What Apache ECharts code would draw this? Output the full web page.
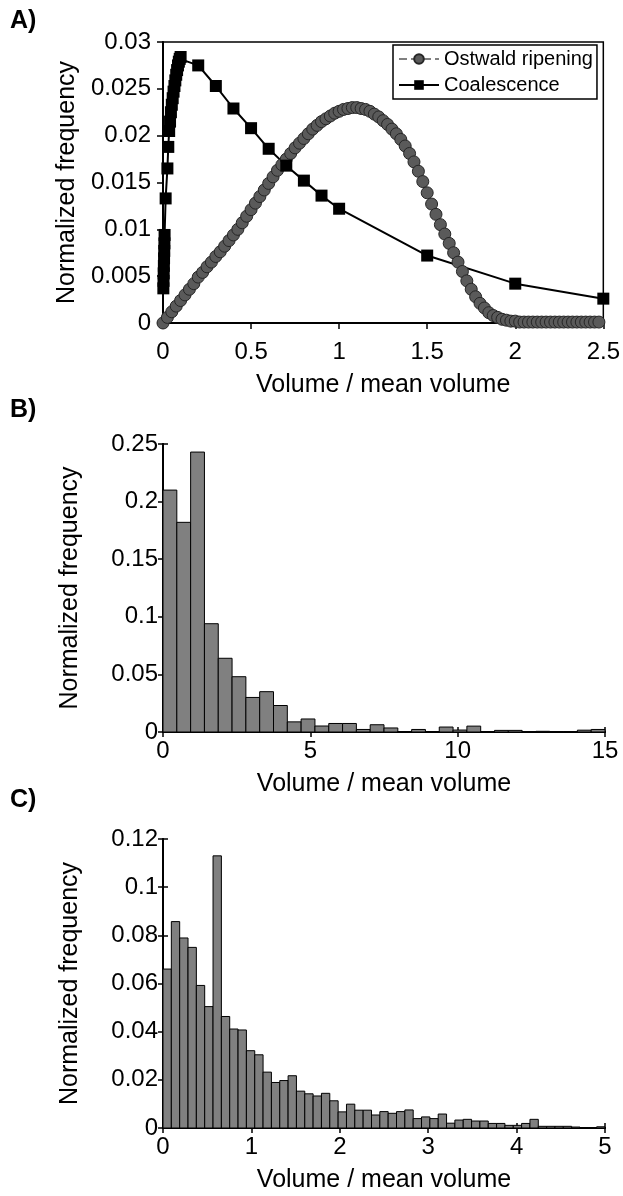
<!DOCTYPE html>
<html>
<head>
<meta charset="utf-8">
<script src="https://cdn.jsdelivr.net/npm/echarts@6/dist/echarts.min.js"></script>
<style>
html,body{margin:0;padding:0;background:#fff;}
#chart{width:623px;height:1196px;}
</style>
</head>
<body>
<div id="chart"></div>
<script>
// ---------- Panel A data ----------
const ostX = [0,0.025,0.05,0.075,0.1,0.125,0.15,0.175,0.2,0.225,
  0.25,0.275,0.3,0.325,0.35,0.375,0.4,0.425,0.45,0.475,
  0.5,0.525,0.55,0.575,0.6,0.625,0.65,0.675,0.7,0.725,
  0.75,0.775,0.8,0.825,0.85,0.875,0.9,0.925,0.95,0.975,
  1.0,1.025,1.05,1.075,1.1,1.125,1.15,1.175,1.2,1.225,
  1.25,1.275,1.3,1.325,1.35,1.375,1.4,1.425,1.45,1.475,
  1.5,1.525,1.55,1.575,1.6,1.625,1.65,1.675,1.7,1.725,
  1.75,1.775,1.8,1.825,1.85,1.875,1.9,1.925,1.95,1.975,
  2.0,2.025,2.05,2.075,2.1,2.125,2.15,2.175,2.2,2.225,
  2.25,2.275,2.3,2.325,2.35,2.375,2.4,2.425,2.45,2.475];
const ostY = [0,0.0006,0.0012,0.0018,0.0024,0.0030,0.0036,0.0042,0.0049,0.0054,
  0.0060,0.0065,0.0071,0.0076,0.0082,0.0088,0.0094,0.0100,0.0107,0.0114,
  0.0121,0.0128,0.0135,0.0142,0.0149,0.0156,0.0163,0.0169,0.0175,0.0181,
  0.0187,0.0192,0.0197,0.0202,0.0207,0.0211,0.0215,0.0218,0.0221,0.0224,
  0.0226,0.0228,0.0229,0.0230,0.0230,0.0229,0.0228,0.0226,0.0223,0.0220,
  0.0216,0.0212,0.0207,0.0202,0.0196,0.0189,0.0181,0.0172,0.0162,0.0151,
  0.0139,0.0127,0.0116,0.0105,0.0095,0.0085,0.0075,0.0065,0.0055,0.0045,
  0.0036,0.0028,0.0021,0.0016,0.0011,0.0008,0.0006,0.0004,0.0003,0.0002,
  0.0002,0.0001,0.0001,0.0001,0.0001,0.0001,0.0001,0.0001,0.0001,0.0001,
  0.0001,0.0001,0.0001,0.0001,0.0001,0.0001,0.0001,0.0001,0.0001,0.0001];
const coalX = [0.002,0.003,0.004,0.005,0.006,0.007,0.008,0.009,0.015,0.025,
  0.03,0.035,0.04,0.045,0.05,0.055,0.06,0.065,0.07,0.075,
  0.08,0.085,0.09,0.095,0.1,0.2,0.3,0.4,0.5,0.6,
  0.7,0.8,0.9,1.0,1.5,2.0,2.5];
const coalY = [0.0037,0.0045,0.0053,0.0061,0.0069,0.0077,0.0085,0.0094,0.0133,0.0165,
  0.0188,0.0205,0.0215,0.0225,0.0233,0.0240,0.0247,0.0253,0.0259,0.0265,
  0.0270,0.0275,0.0279,0.0282,0.0284,0.0275,0.0253,0.0229,0.0208,0.0186,
  0.0168,0.0152,0.0136,0.0122,0.0072,0.0042,0.0026];
const seriesNames = ['Ostwald ripening', 'Coalescence'];

// ---------- Panel B data (32 bins over 0..15) ----------
const histBRange = [0, 15];
const histB = [0.210,0.182,0.243,0.094,0.064,0.048,0.030,0.035,0.023,0.0088,
  0.0113,0.0052,0.0074,0.0074,0.0022,0.0063,0.0035,0.0003,0.0022,0.0004,
  0.0043,0.0017,0.0051,0.0004,0.0014,0.0014,0.0003,0.0006,0.0003,0.0003,
  0.0016,0.0022];

// ---------- Panel C data (53 bins over 0..5) ----------
const histCRange = [0, 5];
const histC = [0.066,0.0857,0.0789,0.075,0.0592,0.0504,0.113,0.0463,0.0411,0.0407,
  0.0321,0.0304,0.0232,0.0189,0.0197,0.0217,0.0153,0.0142,0.0133,0.0144,
  0.0113,0.0067,0.0099,0.0074,0.0074,0.0054,0.0068,0.0061,0.0068,0.0075,
  0.0039,0.0046,0.0039,0.0058,0.0020,0.0033,0.0036,0.0029,0.0029,0.0019,
  0.0019,0.0011,0.0011,0.0019,0.0036,0.0007,0.0007,0.0007,0.0007,0.0004,
  0.0001,0.0001,0.0005];

const xTitle = 'Volume / mean volume';
const yTitle = 'Normalized frequency';
const panelLabels = ['A)', 'B)', 'C)'];

// ---------- build ----------
const FONT = "'Liberation Sans',Arial,Helvetica,sans-serif";
function bins(vals, range) {
  const w = (range[1] - range[0]) / vals.length;
  return vals.map((v, i) => [range[0] + i * w, range[0] + (i + 1) * w, v]);
}
function renderBar(params, api) {
  const p0 = api.coord([api.value(0), api.value(2)]);
  const p1 = api.coord([api.value(1), 0]);
  return {
    type: 'rect',
    shape: { x: p0[0], y: p0[1], width: p1[0] - p0[0], height: p1[1] - p0[1] },
    style: { fill: '#808080', stroke: '#000', lineWidth: 1 }
  };
}
const tickLbl = { color: '#000', fontSize: 24, fontFamily: FONT };
const nameStyle = { color: '#000', fontSize: 25, fontFamily: FONT };
const axLine = { show: true, lineStyle: { color: '#000', width: 2 } };
const inTick = { show: true, inside: true, length: 5, lineStyle: { color: '#000', width: 1.5 } };

function boxAxes(gi, xr, xi, yr, yi, yfmt) {
  return {
    x: [
      { gridIndex: gi, type: 'value', min: xr[0], max: xr[1], interval: xi,
        axisLine: axLine, axisTick: inTick,
        axisLabel: Object.assign({ margin: 7 }, tickLbl), splitLine: { show: false },
        name: xTitle, nameLocation: 'middle', nameGap: 40, nameTextStyle: nameStyle },
      { gridIndex: gi, type: 'value', position: 'top', min: xr[0], max: xr[1], interval: xi,
        axisLine: axLine, axisTick: inTick, axisLabel: { show: false }, splitLine: { show: false } }
    ],
    y: [
      { gridIndex: gi, type: 'value', min: yr[0], max: yr[1], interval: yi,
        axisLine: axLine, axisTick: inTick,
        axisLabel: Object.assign({ margin: 5, formatter: yfmt }, tickLbl), splitLine: { show: false },
        name: yTitle, nameLocation: 'middle', nameGap: 80, nameRotate: 90, nameTextStyle: nameStyle },
      { gridIndex: gi, type: 'value', position: 'right', min: yr[0], max: yr[1], interval: yi,
        axisLine: axLine, axisTick: inTick, axisLabel: { show: false }, splitLine: { show: false } }
    ]
  };
}
const fmt2 = v => String(+v.toFixed(2));
const bAx = boxAxes(1, histBRange, 5, [0, 0.25], 0.05, fmt2);
const cAx = boxAxes(2, histCRange, 1, [0, 0.12], 0.02, fmt2);

const option = {
  animation: false,
  backgroundColor: '#fff',
  grid: [
    { left: 163, top: 42, width: 443, height: 281, show: true, borderColor: '#000', borderWidth: 1.5, backgroundColor: 'transparent' },
    { left: 163, top: 444, width: 442, height: 288 },
    { left: 163, top: 839, width: 442, height: 289 }
  ],
  legend: {
    data: seriesNames,
    left: 393, top: 45, orient: 'vertical',
    backgroundColor: '#fff', borderColor: '#000', borderWidth: 1.5,
    padding: [4, 4, 4, 5], itemGap: 6, itemWidth: 40, itemHeight: 12,
    textStyle: { color: '#000', fontSize: 20, fontFamily: FONT }
  },
  xAxis: [
    { gridIndex: 0, type: 'value', min: 0, max: 2.5, interval: 0.5,
      axisLine: axLine, axisTick: { show: true, inside: false, length: 6, lineStyle: { color: '#000', width: 1.5 } },
      axisLabel: Object.assign({ margin: 17 }, tickLbl), splitLine: { show: false },
      name: xTitle, nameLocation: 'middle', nameGap: 50, nameTextStyle: nameStyle }
  ].concat(bAx.x, cAx.x),
  yAxis: [
    { gridIndex: 0, type: 'value', min: 0, max: 0.03, interval: 0.005,
      axisLine: axLine, axisTick: { show: true, inside: false, length: 6, lineStyle: { color: '#000', width: 1.5 } },
      axisLabel: Object.assign({ margin: 12, formatter: v => String(+v.toFixed(3)) }, tickLbl), splitLine: { show: false },
      name: yTitle, nameLocation: 'middle', nameGap: 82, nameRotate: 90, nameTextStyle: nameStyle }
  ].concat(bAx.y, cAx.y),
  series: [
    { name: seriesNames[0], type: 'line', xAxisIndex: 0, yAxisIndex: 0,
      data: ostX.map((x, i) => [x, ostY[i]]),
      symbol: 'circle', symbolSize: 12, showSymbol: true,
      itemStyle: { color: '#5a5a5a', borderColor: '#262626', borderWidth: 1 },
      lineStyle: { color: '#808080', width: 1, type: 'dashed' } },
    { name: seriesNames[1], type: 'line', xAxisIndex: 0, yAxisIndex: 0,
      data: coalX.map((x, i) => [x, coalY[i]]),
      symbol: 'rect', symbolSize: 12, showSymbol: true,
      itemStyle: { color: '#000', borderColor: '#000', borderWidth: 0 },
      lineStyle: { color: '#000', width: 2 } },
    { type: 'custom', xAxisIndex: 1, yAxisIndex: 1, renderItem: renderBar,
      encode: { x: [0, 1], y: 2 }, data: bins(histB, histBRange) },
    { type: 'custom', xAxisIndex: 3, yAxisIndex: 3, renderItem: renderBar,
      encode: { x: [0, 1], y: 2 }, data: bins(histC, histCRange) }
  ],
  graphic: [
    { type: 'text', left: 10, top: 9, style: { text: panelLabels[0], fontSize: 25, fontWeight: 'bold', fontFamily: FONT, fill: '#000' } },
    { type: 'text', left: 10, top: 398, style: { text: panelLabels[1], fontSize: 25, fontWeight: 'bold', fontFamily: FONT, fill: '#000' } },
    { type: 'text', left: 10, top: 788, style: { text: panelLabels[2], fontSize: 25, fontWeight: 'bold', fontFamily: FONT, fill: '#000' } }
  ]
};
const chart = echarts.init(document.getElementById('chart'), null, { renderer: 'canvas' });
chart.setOption(option);
</script>
</body>
</html>
